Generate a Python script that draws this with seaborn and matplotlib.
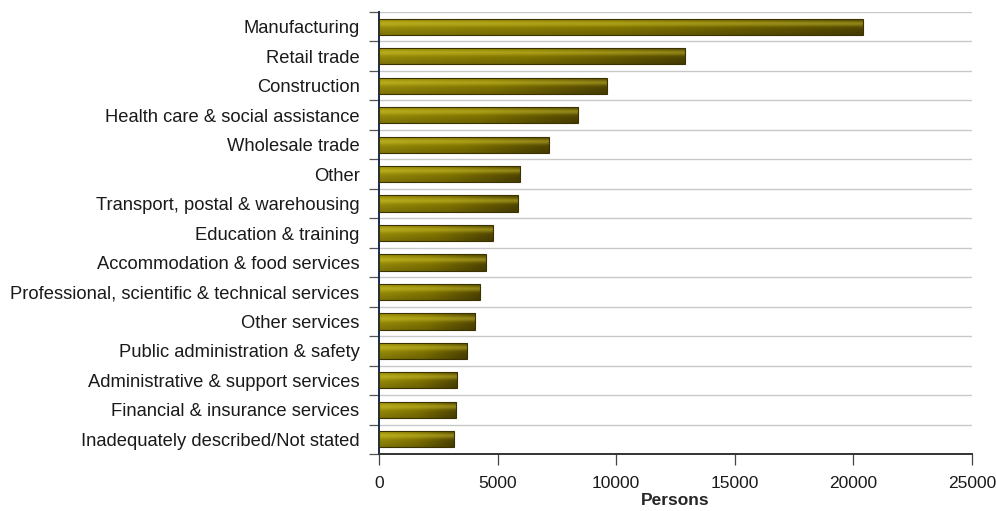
import numpy as np
import pandas as pd
import matplotlib
matplotlib.use("Agg")
import matplotlib.pyplot as plt
import matplotlib.ticker as mticker
from matplotlib.colors import LinearSegmentedColormap
import seaborn as sns

industries = [
    "Manufacturing",
    "Retail trade",
    "Construction",
    "Health care & social assistance",
    "Wholesale trade",
    "Other",
    "Transport, postal & warehousing",
    "Education & training",
    "Accommodation & food services",
    "Professional, scientific & technical services",
    "Other services",
    "Public administration & safety",
    "Administrative & support services",
    "Financial & insurance services",
    "Inadequately described/Not stated",
]
persons = [20400, 12900, 9600, 8400, 7150, 5950, 5850, 4800, 4500, 4250,
           4050, 3700, 3300, 3250, 3150]

df = pd.DataFrame({"Industry": industries, "Persons": persons})

sns.set_style("white")
plt.rcParams["font.family"] = ["Liberation Sans", "DejaVu Sans"]

fig = plt.figure(figsize=(9.96, 5.11), dpi=100)
ax = fig.add_axes([0.3805, 0.1115, 0.5955, 0.865])

sns.barplot(data=df, x="Persons", y="Industry", orient="h", width=0.55,
            color="#7a6d00", edgecolor="#3a3300", linewidth=0.8, ax=ax)

# olive gradient fill, clipped to each bar
grad_cmap = LinearSegmentedColormap.from_list("olive", ["#9c900a", "#857800", "#544800"])
h_grad = np.linspace(0, 1, 256)[None, :]
rows = np.linspace(0, 1, 32)
v_light = 0.45 * np.exp(-((rows - 0.32) / 0.16) ** 2)
v_dark = 0.35 * np.clip(rows - 0.45, 0, None) + 0.35 * np.clip(0.1 - rows, 0, None) * 3
for patch in ax.patches:
    x0, y0 = patch.get_x(), patch.get_y()
    w, h = patch.get_width(), patch.get_height()
    rgb = grad_cmap(np.repeat(h_grad, 32, axis=0))[..., :3]
    rgb = rgb + (np.array([0.85, 0.8, 0.2]) - rgb) * v_light[:, None, None]
    rgb = rgb * (1 - v_dark[:, None, None])
    im = ax.imshow(np.clip(rgb, 0, 1), extent=[x0, x0 + w, y0 + h, y0], aspect="auto",
                   interpolation="bilinear", zorder=2)
    im.set_clip_path(patch)
    patch.set_facecolor("none")
    patch.set_zorder(3)

ax.set_xlim(0, 25000)
ax.set_ylim(len(industries) - 0.5, -0.5)
ax.xaxis.set_major_locator(mticker.MultipleLocator(5000))
ax.set_yticks(np.arange(len(industries)))
ax.set_yticks(np.arange(len(industries) + 1) - 0.5, minor=True)
ax.tick_params(axis="y", which="major", left=False, length=0, labelsize=13.2,
               labelcolor="#1a1a1a", pad=14)
ax.tick_params(axis="y", which="minor", left=True, length=7, width=0.9,
               color="#555555", direction="out")
ax.tick_params(axis="x", bottom=True, length=8, width=0.9, color="#444444",
               direction="out", labelsize=12.5, labelcolor="#1a1a1a", pad=8)
ax.grid(axis="y", which="minor", color="#c8c8c8", linewidth=1)
ax.grid(axis="x", visible=False)
ax.set_axisbelow(True)

ax.set_ylabel("")
ax.set_xlabel("Persons", fontsize=12.5, fontweight="bold", labelpad=1)

for side in ["top", "right"]:
    ax.spines[side].set_visible(False)
ax.spines["left"].set_color("#1c2a4a")
ax.spines["left"].set_linewidth(1.4)
ax.spines["bottom"].set_color("#333333")
ax.spines["bottom"].set_linewidth(1.4)

fig.savefig("out.png", dpi=100)
